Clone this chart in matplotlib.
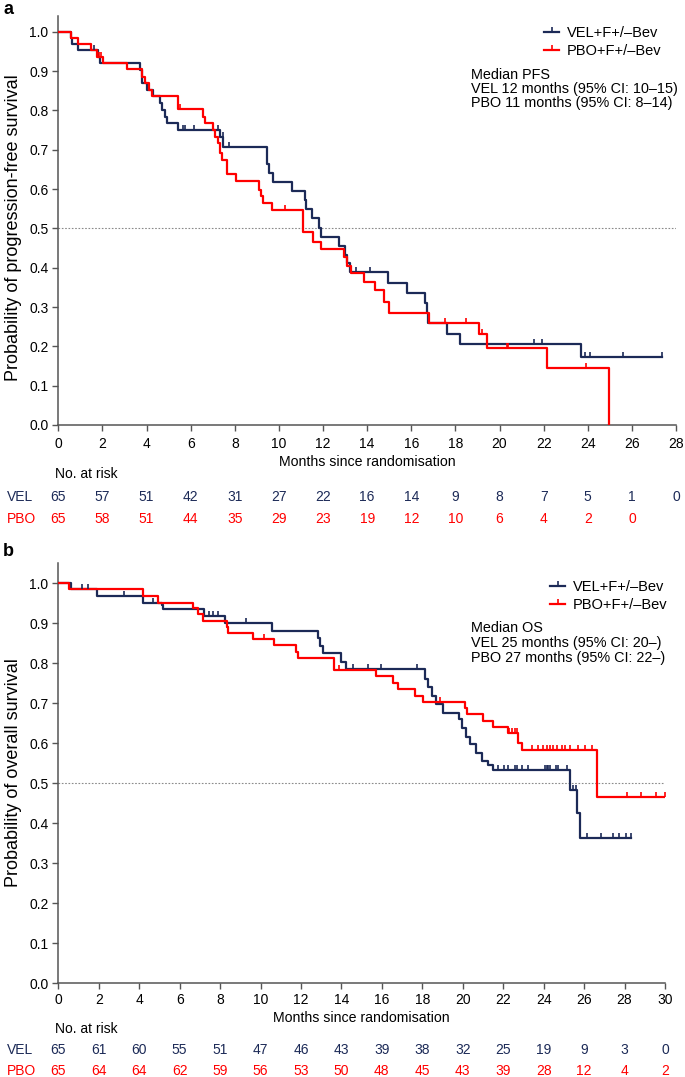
import numpy as np
import matplotlib
matplotlib.use("Agg")
import matplotlib.pyplot as plt
from matplotlib.path import Path
from matplotlib.lines import Line2D
import matplotlib.transforms as mtransforms

plt.rcParams['font.family'] = ['Liberation Sans', 'DejaVu Sans']

NAVY = '#1c2a57'
RED = '#ff0000'

# ---- panel a: progression-free survival ----
pfs_vel_t = [0, 0.56, 0.62, 0.91, 1.82, 1.90, 3.70, 3.78, 4.00, 4.28, 4.61, 4.68, 4.83, 4.91,
             5.41, 7.33, 7.48, 9.47, 9.56, 9.71, 10.60, 11.18, 11.25, 11.48, 11.83, 11.90,
             12.73, 12.99, 13.07, 13.20, 14.95, 15.80, 16.64, 16.70, 16.78, 17.60, 18.20,
             23.68, 27.37]
pfs_vel_s = [1.0, 0.985, 0.969, 0.953, 0.936, 0.920, 0.903, 0.869, 0.852, 0.837, 0.818, 0.801,
             0.784, 0.767, 0.750, 0.733, 0.708, 0.664, 0.640, 0.619, 0.596, 0.572, 0.548, 0.526,
             0.500, 0.479, 0.455, 0.432, 0.411, 0.390, 0.362, 0.336, 0.309, 0.284, 0.259, 0.231,
             0.206, 0.172, 0.172]
pfs_vel_cens = [1.63, 5.64, 5.74, 6.15, 7.25, 7.45, 7.73, 13.49, 14.12, 21.57, 21.93, 23.87,
                24.12, 25.60, 27.37]

pfs_pbo_t = [0, 0.56, 0.91, 1.47, 1.74, 2.04, 3.13, 3.78, 3.93, 4.12, 4.23, 5.41, 6.54, 6.65,
             7.02, 7.10, 7.25, 7.33, 7.40, 7.63, 8.05, 9.11, 9.20, 9.26, 9.67, 11.07, 11.53,
             11.89, 12.96, 13.10, 13.25, 13.85, 14.35, 14.78, 15.00, 16.80, 19.06, 19.44,
             22.17, 24.95]
pfs_pbo_s = [1.0, 0.985, 0.969, 0.953, 0.936, 0.921, 0.905, 0.886, 0.869, 0.852, 0.837, 0.803,
             0.784, 0.767, 0.750, 0.733, 0.716, 0.692, 0.674, 0.638, 0.620, 0.598, 0.582, 0.565,
             0.547, 0.490, 0.466, 0.447, 0.428, 0.405, 0.386, 0.364, 0.343, 0.313, 0.284, 0.259,
             0.231, 0.197, 0.146, 0.0]
pfs_pbo_cens = [1.85, 1.95, 5.52, 10.27, 17.52, 18.47, 19.21, 20.34, 20.40, 23.90]

pfs_risk_times = list(range(0, 29, 2))
pfs_risk_vel = [65, 57, 51, 42, 31, 27, 22, 16, 14, 9, 8, 7, 5, 1, 0]
pfs_risk_pbo = [65, 58, 51, 44, 35, 29, 23, 19, 12, 10, 6, 4, 2, 0]

# ---- panel b: overall survival ----
os_vel_t = [0, 0.61, 1.90, 4.17, 5.11, 5.20, 7.20, 8.24, 10.55, 12.83, 12.95, 13.10, 13.97,
            14.25, 18.14, 18.30, 18.47, 18.66, 19.00, 19.83, 19.95, 20.16, 20.36, 20.66,
            20.94, 21.27, 21.48, 25.31, 25.67, 25.80, 28.31]
os_vel_s = [1.0, 0.985, 0.968, 0.952, 0.946, 0.936, 0.9175, 0.900, 0.8815, 0.8625, 0.843,
            0.825, 0.804, 0.785, 0.762, 0.742, 0.718, 0.698, 0.6765, 0.660, 0.6375, 0.6165,
            0.5975, 0.5765, 0.556, 0.545, 0.533, 0.483, 0.425, 0.364, 0.364]
os_vel_cens = [1.16, 1.45, 3.25, 4.70, 7.47, 7.67, 7.88, 9.28, 14.56, 15.33, 15.94, 17.72,
               21.76, 22.04, 22.26, 22.59, 22.67, 22.92, 23.24, 24.07, 24.15, 24.23, 24.32,
               24.61, 24.72, 25.14, 25.47, 25.60, 26.16, 26.84, 27.45, 27.73, 28.06, 28.31]

os_pbo_t = [0, 0.55, 4.20, 4.95, 6.64, 6.92, 7.14, 8.33, 8.41, 9.64, 10.68, 11.75, 11.87,
            13.63, 15.71, 16.54, 16.78, 17.64, 18.05, 20.11, 20.23, 20.99, 21.48, 22.26,
            22.75, 22.92, 26.63, 30.0]
os_pbo_s = [1.0, 0.985, 0.968, 0.952, 0.9375, 0.9225, 0.9065, 0.8915, 0.8765, 0.861, 0.846,
            0.829, 0.814, 0.783, 0.768, 0.7515, 0.735, 0.718, 0.7025, 0.6875, 0.6725, 0.656,
            0.640, 0.625, 0.6015, 0.583, 0.4665, 0.4665]
os_pbo_cens = [10.17, 13.88, 18.88, 22.30, 22.45, 22.60, 22.70, 23.41, 23.74, 23.99, 24.15,
               24.32, 24.48, 24.65, 24.90, 25.07, 25.31, 25.72, 26.05, 26.38, 28.14, 28.82,
               29.54, 30.0]

os_risk_times = list(range(0, 31, 2))
os_risk_vel = [65, 61, 60, 55, 51, 47, 46, 43, 39, 38, 32, 25, 19, 9, 3, 0]
os_risk_pbo = [65, 64, 64, 62, 59, 56, 53, 50, 48, 45, 43, 39, 28, 12, 4, 2]

W, H = 685, 1077
# censor tick: short vertical mark going up from the curve
tick_up = Path([(0, 0), (0, 1)], [Path.MOVETO, Path.LINETO])


def fx(px):
    return px / W


def fy(py):
    return 1 - py / H


def surv_at(times, surv, t):
    i = np.searchsorted(times, t, side='right') - 1
    return np.asarray(surv)[i]


def draw_km(ax, t, s, cens, color):
    ax.step(t, s, where='post', color=color, lw=1.6, zorder=3)
    cy = [surv_at(t, s, c) for c in cens]
    ax.plot(cens, cy, ls='none', marker=tick_up, markersize=7, mew=1.2, color=color, zorder=4)


def style_axes(ax, xmax, ymax, pad):
    ax.set_xlim(0, xmax)
    ax.set_ylim(0, ymax)
    ax.set_xticks(range(0, xmax + 1, 2))
    ax.set_yticks(np.arange(0, 1.01, 0.1))
    ax.set_yticklabels([f'{v:.1f}' for v in np.arange(0, 1.01, 0.1)])
    for side in ['top', 'right']:
        ax.spines[side].set_visible(False)
    for side in ['left', 'bottom']:
        ax.spines[side].set_color('#555555')
        ax.spines[side].set_linewidth(1.1)
    ax.tick_params(axis='both', direction='out', length=4, width=1, color='#555555',
                   labelsize=10)
    ax.tick_params(axis='x', pad=pad)
    ax.tick_params(axis='y', pad=3)
    ax.axhline(0.5, color='#8a8a8a', lw=0.8, ls=(0, (1.5, 1.5)), zorder=1)


def panel(ax, letter, letter_y, vel, pbo, xmax, ymax, pad, ylabel, ylabel_y,
          xlabel_y, legend_xy, median_lines, median_y, risk_times, risk_vel, risk_pbo,
          risk_y):
    style_axes(ax, xmax, ymax, pad)
    draw_km(ax, *vel, NAVY)
    draw_km(ax, *pbo, RED)

    fig.text(fx(3), fy(letter_y), letter, fontsize=13, fontweight='bold', va='center')
    fig.text(fx(14), fy(ylabel_y), ylabel, rotation=90, fontsize=13, ha='center', va='center')
    bb = ax.get_position()
    fig.text((bb.x0 + bb.x1) / 2, fy(xlabel_y), 'Months since randomisation', fontsize=10.2,
             ha='center', va='center')

    handles = [Line2D([0], [0], color=NAVY, lw=1.6, marker=tick_up, markersize=7, mew=1.2),
               Line2D([0], [0], color=RED, lw=1.6, marker=tick_up, markersize=7, mew=1.2)]
    ax.legend(handles, ['VEL+F+/–Bev', 'PBO+F+/–Bev'], loc='upper left',
              bbox_to_anchor=(fx(legend_xy[0]), fy(legend_xy[1])),
              bbox_transform=fig.transFigure, frameon=False, fontsize=10.5, handlelength=1.05,
              handletextpad=0.5, labelspacing=0.3, borderpad=0, borderaxespad=0, numpoints=1)

    for line, yy in zip(median_lines, median_y):
        fig.text(fx(471.5), fy(yy), line, fontsize=10.4, va='center')

    trans = mtransforms.blended_transform_factory(ax.transData, fig.transFigure)
    fig.text(fx(54.5), fy(risk_y[0]), 'No. at risk', fontsize=10, va='center')
    fig.text(fx(6.5), fy(risk_y[1]), 'VEL', fontsize=10, va='center', color=NAVY)
    fig.text(fx(6.5), fy(risk_y[2]), 'PBO', fontsize=10, va='center', color=RED)
    for t, n in zip(risk_times, risk_vel):
        ax.text(t, fy(risk_y[1]), str(n), transform=trans, fontsize=10, ha='center',
                va='center', color=NAVY, clip_on=False)
    for t, n in zip(risk_times, risk_pbo):
        ax.text(t, fy(risk_y[2]), str(n), transform=trans, fontsize=10, ha='center',
                va='center', color=RED, clip_on=False)


fig = plt.figure(figsize=(W / 100, H / 100), dpi=100)

ax_a = fig.add_axes([fx(58.3), fy(425), fx(676 - 58.3), (425 - 16) / H])
panel(ax_a, 'a', 9, (pfs_vel_t, pfs_vel_s, pfs_vel_cens), (pfs_pbo_t, pfs_pbo_s, pfs_pbo_cens),
      28, 1.04, 4.5, 'Probability of progression-free survival', 228, 462, (544, 26),
      ['Median PFS', 'VEL 12 months (95% CI: 10–15)', 'PBO 11 months (95% CI: 8–14)'],
      [75, 89, 103.3], pfs_risk_times, pfs_risk_vel, pfs_risk_pbo, [474, 496.7, 519.3])

ax_b = fig.add_axes([fx(58.3), fy(983.3), fx(665 - 58.3), 420 / H])
panel(ax_b, 'b', 551, (os_vel_t, os_vel_s, os_vel_cens), (os_pbo_t, os_pbo_s, os_pbo_cens),
      30, 1.05, 3, 'Probability of overall survival', 773, 1018, (550, 580),
      ['Median OS', 'VEL 25 months (95% CI: 20–)', 'PBO 27 months (95% CI: 22–)'],
      [628.3, 643.3, 657.7], os_risk_times, os_risk_vel, os_risk_pbo, [1029, 1050, 1070.7])

fig.savefig('out.png', dpi=100)
